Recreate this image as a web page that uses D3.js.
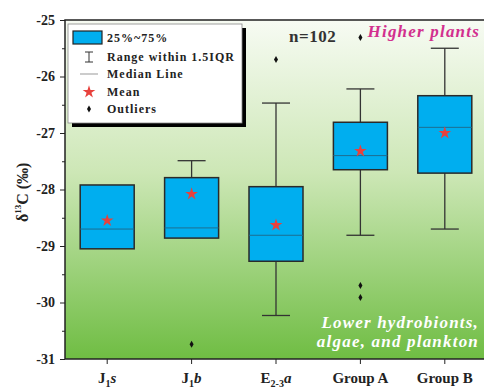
<!DOCTYPE html>
<html>
<head>
<meta charset="utf-8">
<script src="https://cdn.jsdelivr.net/npm/d3@7"></script>
<style>
  body { margin: 0; background: #fff; }
  text { font-family: "Liberation Serif", "DejaVu Serif", serif; font-weight: bold; }
</style>
</head>
<body>
<div id="chart"></div>
<script>
const W = 484, H = 388;
const margin = {top: 20, right: -3, bottom: 29, left: 65};
const width = W - margin.left - margin.right;
const height = H - margin.top - margin.bottom;

// Data
const groups = ["J1s", "J1b", "E23a", "Group A", "Group B"];
const whiskerLow = [-29.05, -28.86, -30.23, -28.81, -28.70];
const q1 = [-29.05, -28.86, -29.27, -27.65, -27.71];
const median = [-28.70, -28.68, -28.81, -27.40, -26.90];
const q3 = [-27.92, -27.79, -27.95, -26.81, -26.34];
const whiskerHigh = [-27.92, -27.49, -26.47, -26.22, -25.50];
const means = [-28.55, -28.08, -28.63, -27.32, -27.00];
const outliers = [
  {group: "J1b", value: -30.74},
  {group: "E23a", value: -25.70},
  {group: "Group A", value: -25.31},
  {group: "Group A", value: -29.70},
  {group: "Group A", value: -29.91}
];
const yTicks = [-25, -26, -27, -28, -29, -30, -31];

const svg = d3.select("#chart").append("svg")
  .attr("width", W).attr("height", H);

const defs = svg.append("defs");
const grad = defs.append("linearGradient")
  .attr("id", "bg").attr("x1", 0).attr("y1", 0).attr("x2", 0).attr("y2", 1);
grad.append("stop").attr("offset", "0%").attr("stop-color", "#f7fbf3");
grad.append("stop").attr("offset", "45%").attr("stop-color", "#cde7b6");
grad.append("stop").attr("offset", "100%").attr("stop-color", "#6fbd43");

const g = svg.append("g").attr("transform", `translate(${margin.left},${margin.top})`);

const x = d3.scaleBand().domain(groups).range([0, width]);
const y = d3.scaleLinear().domain([-31, -25]).range([height, 0]);

g.append("rect").attr("width", width).attr("height", height).attr("fill", "url(#bg)");

// Axes
const yAxis = d3.axisLeft(y).tickValues(yTicks).tickSize(5).tickPadding(5).tickFormat(d => String(d));
const yMinor = d3.axisLeft(y).tickValues(d3.range(-30.5, -25, 1)).tickSize(3).tickFormat("");
g.append("g").call(yMinor).call(a => a.select(".domain").remove())
  .selectAll("line").attr("stroke", "#222");
const ya = g.append("g").call(yAxis);
ya.select(".domain").remove();
ya.selectAll("line").attr("stroke", "#222");
ya.selectAll("text").attr("font-size", 14).attr("fill", "#222");

const xAxis = d3.axisBottom(x).tickSize(5).tickFormat("");
const xa = g.append("g").attr("transform", `translate(0,${height})`).call(xAxis);
xa.select(".domain").remove();
xa.selectAll("line").attr("stroke", "#222");

// frame
g.append("rect").attr("width", width).attr("height", height)
  .attr("fill", "none").attr("stroke", "#222").attr("stroke-width", 1.5);

// x labels with subscripts
const labelParts = {
  "J1s": [["J", "n"], ["1", "sub"], ["s", "i"]],
  "J1b": [["J", "n"], ["1", "sub"], ["b", "i"]],
  "E23a": [["E", "n"], ["2-3", "sub"], ["a", "i"]],
  "Group A": [["Group A", "n"]],
  "Group B": [["Group B", "n"]]
};
groups.forEach(gr => {
  const t = g.append("text")
    .attr("x", x(gr) + x.bandwidth() / 2)
    .attr("y", height + 24)
    .attr("text-anchor", "middle")
    .attr("font-size", 15).attr("fill", "#222");
  labelParts[gr].forEach(([s, kind], i) => {
    const ts = t.append("tspan").text(s);
    if (kind === "sub") ts.attr("font-size", 10).attr("dy", 4);
    else if (i > 0 && labelParts[gr][i - 1][1] === "sub") ts.attr("dy", -4);
    if (kind === "i") ts.attr("font-style", "italic");
  });
});

// y label
const yl = svg.append("text")
  .attr("transform", `translate(28,${margin.top + y(-28.05)}) rotate(-90)`)
  .attr("text-anchor", "middle").attr("font-size", 16).attr("fill", "#222");
yl.append("tspan").text("δ");
yl.append("tspan").text("13").attr("font-size", 9).attr("dy", -7);
yl.append("tspan").text("C (‰)").attr("dy", 7);

// boxes
const bw = 54, cw = 28;
const boxes = groups.map((gr, i) => ({
  gr, lo: whiskerLow[i], q1: q1[i], med: median[i], q3: q3[i], hi: whiskerHigh[i], mean: means[i]
}));
const bg = g.selectAll(".box").data(boxes).enter().append("g")
  .attr("transform", d => `translate(${x(d.gr) + x.bandwidth() / 2},0)`);

bg.append("line").attr("y1", d => y(d.hi)).attr("y2", d => y(d.q3)).attr("stroke", "#333").attr("stroke-width", 1.3);
bg.append("line").attr("y1", d => y(d.q1)).attr("y2", d => y(d.lo)).attr("stroke", "#333").attr("stroke-width", 1.3);
bg.filter(d => d.hi > d.q3).append("line").attr("x1", -cw / 2).attr("x2", cw / 2)
  .attr("y1", d => y(d.hi)).attr("y2", d => y(d.hi)).attr("stroke", "#333").attr("stroke-width", 1.3);
bg.filter(d => d.lo < d.q1).append("line").attr("x1", -cw / 2).attr("x2", cw / 2)
  .attr("y1", d => y(d.lo)).attr("y2", d => y(d.lo)).attr("stroke", "#333").attr("stroke-width", 1.3);
bg.append("rect").attr("x", -bw / 2).attr("width", bw)
  .attr("y", d => y(d.q3)).attr("height", d => y(d.q1) - y(d.q3))
  .attr("fill", "#00aeef").attr("stroke", "#2a2a2a").attr("stroke-width", 1.5);
bg.append("line").attr("x1", -bw / 2).attr("x2", bw / 2)
  .attr("y1", d => y(d.med)).attr("y2", d => y(d.med)).attr("stroke", "#1d6e90").attr("stroke-width", 1);

const star = d3.symbol().type(d3.symbolStar).size(50);
bg.append("path").attr("d", star).attr("fill", "#e8413c")
  .attr("transform", d => `translate(0,${y(d.mean)})`);

const diamond = d3.symbol().type(d3.symbolDiamond).size(14);
g.selectAll(".out").data(outliers).enter().append("path")
  .attr("d", diamond).attr("fill", "#111")
  .attr("transform", d => `translate(${x(d.group) + x.bandwidth() / 2},${y(d.value)})`);

// annotations
svg.append("text").attr("x", 289).attr("y", 42).attr("font-size", 17).attr("fill", "#333")
  .attr("letter-spacing", 0.5).text("n=102");
svg.append("text").attr("x", 480).attr("y", 37).attr("text-anchor", "end")
  .attr("font-size", 17).attr("font-style", "italic").attr("letter-spacing", 1.2)
  .attr("fill", "#d2308e").text("Higher plants");
svg.append("text").attr("x", 479).attr("y", 328).attr("text-anchor", "end")
  .attr("font-size", 17).attr("font-style", "italic").attr("letter-spacing", 1.2)
  .attr("fill", "#ffffff").text("Lower hydrobionts,");
svg.append("text").attr("x", 479).attr("y", 347).attr("text-anchor", "end")
  .attr("font-size", 17).attr("font-style", "italic").attr("letter-spacing", 1.2)
  .attr("fill", "#ffffff").text("algae, and plankton");

// legend
const lg = svg.append("g").attr("transform", "translate(68,24)");
lg.append("rect").attr("x", 4).attr("y", 4).attr("width", 174).attr("height", 99).attr("fill", "#000");
lg.append("rect").attr("width", 174).attr("height", 99).attr("fill", "#fff").attr("stroke", "#888").attr("stroke-width", 0.8);
lg.append("rect").attr("x", 5).attr("y", 7).attr("width", 29).attr("height", 13)
  .attr("fill", "#00aeef").attr("stroke", "#222").attr("stroke-width", 1.2);
const lt = ["25%~75%", "Range within 1.5IQR", "Median Line", "Mean", "Outliers"];
const ly = [18, 37, 54, 72, 89];
lg.selectAll(".lt").data(lt).enter().append("text")
  .attr("x", 39).attr("y", (d, i) => ly[i]).attr("font-size", 12).attr("letter-spacing", 1)
  .attr("fill", "#222").text(d => d);
// whisker icon
lg.append("line").attr("x1", 17).attr("x2", 25).attr("y1", 28).attr("y2", 28).attr("stroke", "#333");
lg.append("line").attr("x1", 21).attr("x2", 21).attr("y1", 28).attr("y2", 38).attr("stroke", "#333");
lg.append("line").attr("x1", 17).attr("x2", 25).attr("y1", 38).attr("y2", 38).attr("stroke", "#333");
lg.append("line").attr("x1", 12).attr("x2", 30).attr("y1", 50).attr("y2", 50).attr("stroke", "#999");
lg.append("path").attr("d", star).attr("fill", "#e8413c").attr("transform", "translate(21,68)");
lg.append("path").attr("d", diamond).attr("fill", "#111").attr("transform", "translate(21,85)");
</script>
</body>
</html>
